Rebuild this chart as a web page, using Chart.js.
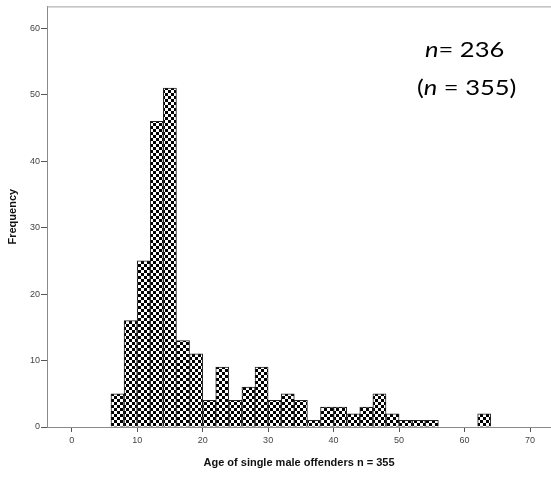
<!DOCTYPE html>
<html>
<head>
<meta charset="utf-8">
<script src="https://cdn.jsdelivr.net/npm/chart.js@4.4.1/dist/chart.umd.min.js"></script>
<style>
  html, body { margin: 0; padding: 0; background: #fff; }
  #wrap { width: 551px; height: 477px; position: relative; }
</style>
</head>
<body>
<div id="wrap"><canvas id="c"></canvas></div>
<script>
// Histogram of offender ages, 2-year bins (lower edge of each bin)
const binStarts = [6, 8, 10, 12, 14, 16, 18, 20, 22, 24, 26, 28, 30, 32, 34,
                   36, 38, 40, 42, 44, 46, 48, 50, 52, 54, 56, 58, 60, 62];
const counts    = [5, 16, 25, 46, 51, 13, 11, 4, 9, 4, 6, 9, 4, 5, 4,
                   1, 3, 3, 2, 3, 5, 2, 1, 1, 1, 0, 0, 0, 2];
const binWidth = 2;
const xTicks = [0, 10, 20, 30, 40, 50, 60, 70];
const yTicks = [0, 10, 20, 30, 40, 50, 60];
const xTitle = 'Age of single male offenders n = 355';
const yTitle = 'Frequency';
const noteLine1 = ['n', '= 236'];
const noteLine2 = ['(', 'n', ' = 355)'];

// black/white checkerboard fill for the bars
function checkerPattern(ctx) {
  const cell = 3;
  const c = document.createElement('canvas');
  c.width = c.height = cell * 2;
  const g = c.getContext('2d');
  g.fillStyle = '#fff';
  g.fillRect(0, 0, cell * 2, cell * 2);
  g.fillStyle = '#000';
  g.fillRect(0, 0, cell, cell);
  g.fillRect(cell, cell, cell, cell);
  return ctx.createPattern(c, 'repeat');
}

const canvas = document.getElementById('c');
const ctx = canvas.getContext('2d');

const points = binStarts.map((s, i) => ({ x: s + binWidth / 2, y: counts[i] }));

// frame line along the top of the plot and the sample-size note
const framePlugin = {
  id: 'frame',
  afterDraw(chart) {
    const { ctx, chartArea: a } = chart;
    ctx.save();
    ctx.strokeStyle = '#a0a0a0';
    ctx.lineWidth = 1;
    ctx.beginPath();
    ctx.moveTo(a.left, a.top + 0.5);
    ctx.lineTo(a.right, a.top + 0.5);
    ctx.stroke();

    ctx.fillStyle = '#000';
    ctx.textBaseline = 'alphabetic';
    const size = 22;
    const stretch = 1.16;
    const drawParts = (parts, italicIdx, x0, y) => {
      ctx.save();
      ctx.translate(x0, y);
      ctx.scale(stretch, 1);
      let x = 0;
      parts.forEach((p, i) => {
        ctx.font = (i === italicIdx ? 'italic ' : '') + size + 'px Lato, "Open Sans", sans-serif';
        ctx.fillText(p, x, 0);
        x += ctx.measureText(p).width;
      });
      ctx.restore();
    };
    drawParts(noteLine1, 0, 425, 57);
    drawParts(noteLine2, 1, 417, 95);
    ctx.restore();
  }
};

new Chart(ctx, {
  type: 'bar',
  data: {
    datasets: [{
      data: points,
      backgroundColor: checkerPattern(ctx),
      borderColor: '#222',
      borderWidth: 1,
      borderSkipped: 'start',
      barPercentage: 1,
      categoryPercentage: 1
    }]
  },
  options: {
    responsive: true,
    maintainAspectRatio: false,
    animation: false,
    layout: { padding: { top: 6, right: 0, left: 0, bottom: 0 } },
    plugins: { legend: { display: false }, tooltip: { enabled: false } },
    scales: {
      x: {
        type: 'linear',
        offset: false,
        min: -3.77,
        max: 73.2,
        afterBuildTicks(scale) { scale.ticks = xTicks.map(v => ({ value: v })); },
        afterFit(scale) { scale.height = 50; },
        grid: { display: true, offset: false, drawOnChartArea: false, drawTicks: true, tickLength: 5, color: '#555' },
        border: { display: true, color: '#8a8a8a' },
        ticks: { color: '#444', font: { family: '"Liberation Sans", Arial, sans-serif', size: 9 }, padding: 3, maxRotation: 0 },
        title: { display: true, text: xTitle, color: '#111',
                 font: { family: '"Liberation Sans", Arial, sans-serif', size: 11, weight: 'bold' },
                 padding: { top: 0, bottom: 7 } }
      },
      y: {
        min: 0,
        max: 63.3,
        afterBuildTicks(scale) { scale.ticks = yTicks.map(v => ({ value: v })); },
        afterFit(scale) { scale.width = 47; },
        grid: { display: true, drawOnChartArea: false, drawTicks: true, tickLength: 6, color: '#555' },
        border: { display: true, color: '#8a8a8a' },
        ticks: { color: '#444', font: { family: '"Liberation Sans", Arial, sans-serif', size: 9 }, padding: 1 },
        title: { display: true, text: yTitle, color: '#111',
                 font: { family: '"Liberation Sans", Arial, sans-serif', size: 11, weight: 'bold' },
                 padding: { top: 6, bottom: 0 } }
      }
    }
  },
  plugins: [framePlugin]
});
</script>
</body>
</html>
